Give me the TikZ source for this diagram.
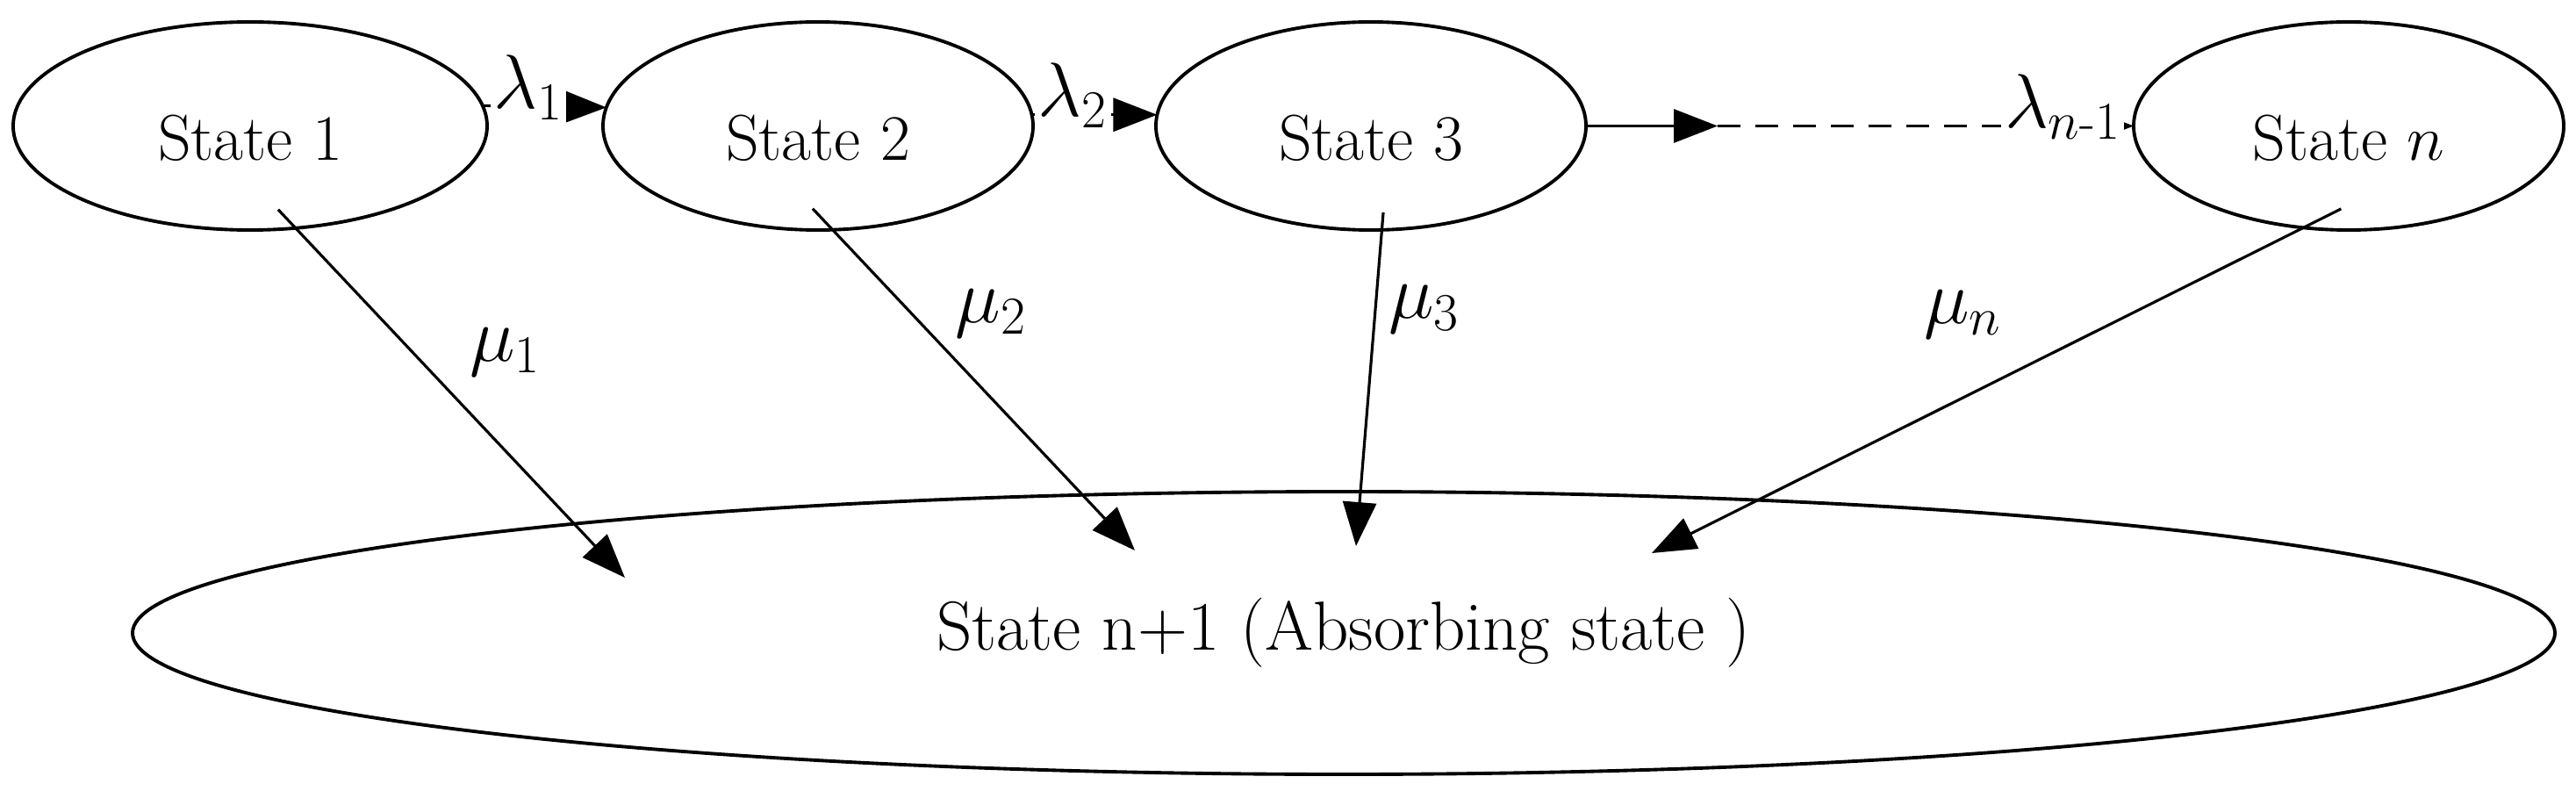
\documentclass[tikz,border=0pt]{standalone}
\usepackage{amsmath}
\usetikzlibrary{shapes,arrows.meta,positioning,calc}

\begin{document}
\begin{tikzpicture}[
    mystate/.style={draw, ellipse, line width=1.1pt, inner sep=0pt, outer sep=0pt,
        minimum width=4.9cm, minimum height=2.37cm, text height=0.8cm,
        font=\fontsize{21}{25}\selectfont},
    myedge/.style={-{Triangle[length=0.5cm, width=0.38cm]}, line width=0.9pt},
    mylabel/.style={font=\fontsize{24}{28}\selectfont, inner sep=1pt},
    ratelabel/.style={mylabel, fill=white, text depth=6pt, above=-8pt}
]
\useasboundingbox (0,0) rectangle (29.35,9);

% transient states
\node[mystate, minimum width=5.4cm] (S1) at (2.85,7.565) {State 1};
\node[mystate] (S2) [right=1.32cm of S1] {State 2};
\node[mystate] (S3) [right=1.40cm of S2] {State 3};
\node[mystate] (Sn) [right=6.24cm of S3] {State $n$};
\coordinate (gap) at (19.57,7.565);

% absorbing state
\node[mystate, text height=, font=\fontsize{22.5}{27}\selectfont, minimum width=27.6cm, minimum height=3.22cm] (Sabs) at (15.31,1.79) {State n+1 (Absorbing state )};

\draw[myedge] (S1.5) -- (S2.175) node[ratelabel, pos=0.37] {$\lambda_1$};
\draw[myedge] (S2.3) -- (S3.177) node[ratelabel, pos=0.33] {$\lambda_2$};
\draw[myedge] (S3.east) -- (gap);
\draw[myedge, dash pattern=on 0.26cm off 0.17cm] (gap) -- (Sn.west) node[ratelabel, pos=0.83] {$\lambda_{n\text{-}1}$};

\draw[myedge, shorten <=-0.29cm] (S1.-66) -- ($(Sabs.center)+(-8.19,0.63)$) node[mylabel, pos=0.355, right=0.6cm] {$\mu_1$};
\draw[myedge, shorten <=-0.33cm] (S2.-82.3) -- ($(Sabs.center)+(-2.38,0.94)$) node[mylabel, pos=0.262, right=0.45cm] {$\mu_2$};
\draw[myedge, shorten <=-0.2cm] (S3.-84.9) -- ($(Sabs.center)+(0.14,0.99)$) node[mylabel, pos=0.252, right=0.1cm] {$\mu_3$};
\draw[myedge, shorten <=-0.48cm] (Sn.-114.2) -- ($(Sabs.center)+(3.51,0.91)$) node[mylabel, pos=0.267, left=1.4cm] {$\mu_n$};
\end{tikzpicture}
\end{document}
